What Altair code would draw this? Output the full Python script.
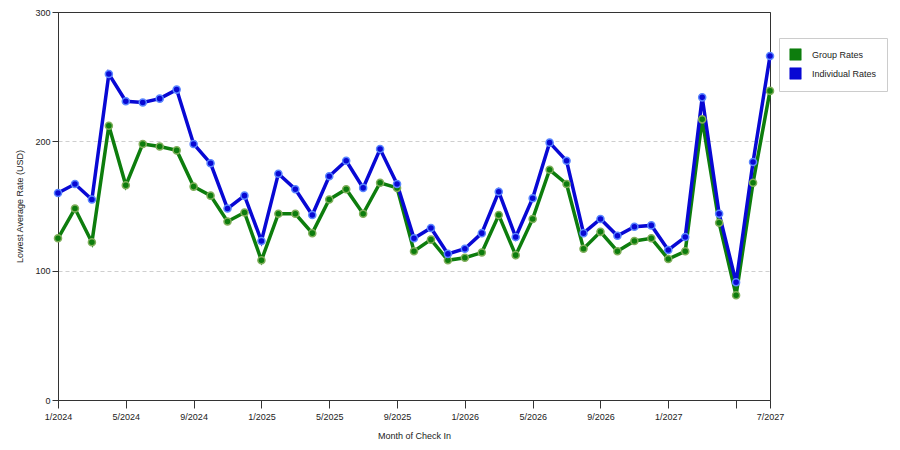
import json
import altair as alt
import pandas as pd

# one point per month, 1/2024 .. 7/2027
months = list(pd.date_range("2024-01-01", "2027-07-01", freq="MS").strftime("%Y-%m"))

group_rates = [125, 148, 122, 212, 166, 198, 196, 193, 165, 158, 138, 145,
               108, 144, 144, 129, 155, 163, 144, 168, 164, 115, 124, 108,
               110, 114, 143, 112, 140, 178, 167, 117, 130, 115, 123, 125,
               109, 115, 217, 137, 81, 168, 239]
individual_rates = [160, 167, 155, 252, 231, 230, 233, 240, 198, 183, 148, 158,
                    123, 175, 163, 143, 173, 185, 164, 194, 167, 125, 133, 113,
                    117, 129, 161, 126, 156, 199, 185, 129, 140, 127, 134, 135,
                    116, 126, 234, 144, 91, 184, 266]

series_names = ["Group Rates", "Individual Rates"]
line_colors = ["#0d7d0d", "#0808d4"]
point_edges = ["#7fae5a", "#5a86ff"]

tick_idx = [0, 4, 8, 12, 16, 20, 24, 28, 32, 36, 40, 42]
tick_labels = ["1/2024", "5/2024", "9/2024", "1/2025", "5/2025", "9/2025",
               "1/2026", "5/2026", "9/2026", "1/2027", "", "7/2027"]

rows = []
for name, vals in zip(series_names, [group_rates, individual_rates]):
    for i, (m, v) in enumerate(zip(months, vals)):
        rows.append({"idx": i, "month": m, "series": name, "rate": v,
                     "order": series_names.index(name)})
df = pd.DataFrame(rows)

label_expr = f"{json.dumps(tick_labels)}[indexof({json.dumps(tick_idx)}, datum.value)]"

x = alt.X("idx:Q", title="Month of Check In",
          scale=alt.Scale(domain=[0, 42], nice=False, zero=False),
          axis=alt.Axis(values=tick_idx, labelExpr=label_expr, grid=False,
                        labelFlush=False, labelOverlap=False,
                        tickSize=8, labelPadding=4, titlePadding=10))
y = alt.Y("rate:Q", title="Lowest Average Rate (USD)",
          scale=alt.Scale(domain=[0, 300], nice=False),
          axis=alt.Axis(values=[0, 100, 200, 300], grid=True,
                        gridDash={"condition": {"test": "datum.value === 300", "value": []},
                                  "value": [4, 3]},
                        gridColor={"condition": {"test": "datum.value === 300", "value": "#333"},
                                   "value": "#cfcfcf"},
                        labelFlush=False, tickSize=6, titlePadding=10))
color_scale = alt.Scale(domain=series_names, range=line_colors)

lines = alt.Chart(df).mark_line(strokeWidth=3.5).encode(
    x=x, y=y,
    color=alt.Color("series:N", scale=color_scale, title=None,
                    legend=alt.Legend(orient="none", legendX=721, legendY=26,
                                      symbolType="square", symbolSize=130,
                                      symbolStrokeColor="#222", symbolStrokeWidth=0.6,
                                      symbolOpacity=1,
                                      labelFontSize=9, labelColor="#222",
                                      rowPadding=4, labelOffset=10,
                                      padding=10, strokeColor="#cccccc",
                                      fillColor="white")),
    order="order:Q",
)

points = alt.Chart(df).mark_circle(size=50, opacity=1, strokeWidth=1.5).encode(
    x=x, y=y,
    color=alt.Color("series:N", scale=color_scale, legend=None),
    stroke=alt.Stroke("series:N", scale=alt.Scale(domain=series_names, range=point_edges),
                      legend=None),
    order="order:Q",
)

chart = (lines + points).properties(
    width=712, height=388,
    autosize=alt.AutoSizeParams(type="none"),
    padding={"left": 50, "top": 4, "right": 120, "bottom": 40},
).configure_view(
    stroke="#333", strokeWidth=1
).configure_axis(
    labelFont="Liberation Sans", titleFont="Liberation Sans",
    labelFontSize=9, titleFontSize=9, titleFontWeight="normal",
    labelColor="#222", titleColor="#222", domainColor="#333", tickColor="#333",
).configure_legend(
    labelFont="Liberation Sans"
)

chart.save("out.html", embed_options={"renderer": "svg", "actions": False})
